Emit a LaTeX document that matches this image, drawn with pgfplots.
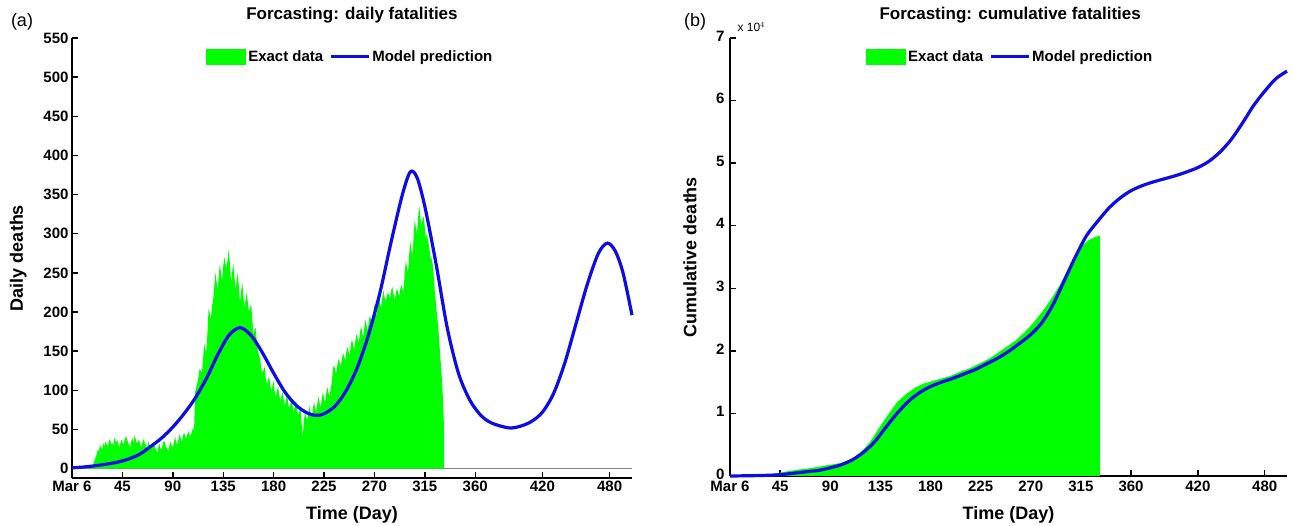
\documentclass[border=0pt]{standalone}
\usepackage{fontspec}
\setmainfont{Liberation Sans}
\usepackage{pgfplots}
\usepackage{pgfplotstable}
\pgfplotsset{compat=1.18}
\definecolor{mblue}{RGB}{12,12,235}
\definecolor{mgreen}{RGB}{0,255,0}
\pgfplotsset{
 myaxis/.style={
  scale only axis, anchor=south west,
  axis x line=bottom, axis y line=left,
  axis line style={-, line width=1.6pt},
  every tick/.style={black, line width=1.4pt},
  major tick length=6pt, tick align=inside,
  tick label style={font=\fontsize{15}{18}\selectfont\bfseries, inner ysep=1pt},
  /pgf/number format/assume math mode=true,
  label style={font=\fontsize{18}{21}\selectfont\bfseries},
  xmin=0, xmax=500,
  xtick={0,45,90,135,180,225,270,315,360,420,480},
  xticklabels={Mar 6,45,90,135,180,225,270,315,360,420,480},
  xlabel={Time (Day)},
  legend columns=2,
  legend style={draw=none, fill=none, font=\fontsize{15}{18}\selectfont\bfseries,
    /tikz/every even column/.append style={column sep=4pt}},
  clip=false,
 },
 greenleg/.style={legend image code/.code={\fill[mgreen] (0pt,-8pt) rectangle (40pt,8pt);}},
 blueleg/.style={legend image code/.code={\draw[mblue, line width=3pt] (0pt,0pt) -- (38pt,0pt);}},
}
% daily deaths, one row per day (day, deaths)
\pgfplotstableread{
day d
0 0
1 0
2 1
3 0
4 1
5 0
6 1
7 1
8 0
9 1
10 1
11 2
12 1
13 2
14 1
15 3
16 2
17 4
18 3
19 6
20 10
21 14
22 18
23 24
24 22
25 30
26 27
27 25
28 33
29 28
30 35
31 31
32 28
33 36
34 38
35 30
36 33
37 29
38 40
39 35
40 33
41 37
42 26
43 31
44 37
45 34
46 30
47 36
48 42
49 38
50 34
51 30
52 28
53 35
54 39
55 33
56 43
57 37
58 32
59 36
60 36
61 31
62 27
63 34
64 38
65 33
66 30
67 26
68 35
69 31
70 25
71 29
72 33
73 30
74 28
75 24
76 20
77 27
78 32
79 26
80 24
81 31
82 36
83 33
84 28
85 25
86 22
87 29
88 34
89 30
90 27
91 33
92 40
93 35
94 30
95 37
96 44
97 39
98 34
99 41
100 46
101 42
102 38
103 44
104 48
105 43
106 42
107 47
108 52
109 49
110 98
111 104
112 110
113 118
114 128
115 125
116 122
117 140
118 160
119 152
120 150
121 175
122 205
123 198
124 190
125 208
126 215
127 232
128 250
129 240
130 228
131 245
132 262
133 250
134 240
135 258
136 270
137 262
138 255
139 268
140 280
141 262
142 238
143 250
144 262
145 245
146 228
147 240
148 250
149 232
150 212
151 226
152 238
153 220
154 205
155 216
156 225
157 212
158 200
159 205
160 210
161 190
162 172
163 176
164 180
165 162
166 150
167 145
168 140
169 128
170 122
171 126
172 130
173 115
174 108
175 113
176 118
177 106
178 100
179 106
180 112
181 98
182 92
183 100
184 104
185 95
186 86
187 92
188 98
189 88
190 80
191 88
192 95
193 84
194 76
195 83
196 90
197 80
198 72
199 80
200 88
201 75
202 68
203 73
204 78
205 58
206 40
207 60
208 72
209 66
210 62
211 70
212 80
213 72
214 66
215 75
216 85
217 78
218 72
219 82
220 92
221 84
222 78
223 88
224 98
225 90
226 85
227 96
228 104
229 97
230 92
231 102
232 110
233 128
234 132
235 126
236 122
237 133
238 140
239 136
240 130
241 140
242 148
243 143
244 138
245 150
246 155
247 149
248 145
249 158
250 165
251 158
252 152
253 163
254 172
255 166
256 160
257 172
258 182
259 175
260 168
261 180
262 190
263 183
264 176
265 188
266 196
267 190
268 185
269 198
270 210
271 202
272 195
273 210
274 222
275 213
276 205
277 218
278 228
279 220
280 212
281 220
282 225
283 222
284 218
285 228
286 232
287 224
288 215
289 222
290 230
291 226
292 220
293 228
294 235
295 230
296 225
297 248
298 265
299 258
300 250
301 272
302 290
303 280
304 270
305 296
306 318
307 308
308 300
309 320
310 336
311 322
312 310
313 318
314 322
315 308
316 295
317 300
318 290
319 282
320 270
321 268
322 262
323 245
324 225
325 210
326 195
327 180
328 160
329 140
330 120
331 95
332 60
332 0
}\daily
\begin{document}
\begin{tikzpicture}[x=1pt,y=1pt]
\useasboundingbox (0,0) rectangle (1293,526);
\node[font=\fontsize{18}{21}\selectfont] at (22,504) {(a)};
\node[font=\fontsize{18}{21}\selectfont] at (695,504) {(b)};
% ---------------- left ----------------
\begin{axis}[myaxis,
  at={(72pt,48pt)}, width=560pt, height=440pt,
  ymin=-12, ymax=550, ytick={0,50,...,550},
  ylabel={Daily deaths},
  ylabel style={at={(axis description cs:-0.096,0.5)}, anchor=center},
  xlabel style={at={(axis description cs:0.5,-0.084)}, anchor=center},
  xticklabel style={yshift=-2pt},
  legend style={at={(0.497,0.957)}, anchor=center},
]
\addplot[gray, line width=0.8pt, forget plot] coordinates {(0,0) (500,0)};
\addplot[fill=mgreen, draw=none, greenleg] table[x=day, y=d] {\daily} \closedcycle;
\addlegendentry{Exact data}
\addplot[mblue, line width=3.2pt, smooth, blueleg] coordinates {
(0,1) (10,2) (20,3.5) (30,5.5) (40,8) (50,12) (60,18) (70,28) (80,39) (90,53)
(100,70) (110,90) (120,115) (130,145) (140,170) (150,180) (160,170) (170,148) (180,122) (190,98)
(200,81) (210,71) (218,68) (225,70) (235,80) (245,100) (255,130) (265,172) (275,225) (285,290)
(295,350) (302,379) (308,372) (315,335) (325,262) (335,180) (345,122) (355,88) (365,68) (375,58)
(390,52) (400,54) (410,60) (420,72) (430,96) (440,135) (450,185) (460,235) (470,275) (478,288)
(485,278) (492,250) (500,196)
};
\addlegendentry{Model prediction}
\node[font=\fontsize{17}{20}\selectfont\bfseries, anchor=center] at (rel axis cs:0.5,1.052) {Forcasting: daily fatalities};
\end{axis}
% ---------------- right ----------------
\begin{axis}[myaxis,
  at={(730pt,50pt)}, width=557pt, height=438pt,
  ymin=0, ymax=7, ytick={0,1,...,7},
  ylabel={Cumulative deaths},
  ylabel style={at={(axis description cs:-0.072,0.5)}, anchor=center},
  xlabel style={at={(axis description cs:0.5,-0.089)}, anchor=center},
  xticklabel style={yshift=-4pt},
  yticklabel style={yshift=2pt, xshift=-2pt},
  legend style={at={(0.503,0.957)}, anchor=center},
]
\addplot[fill=mgreen, draw=none, greenleg] coordinates {
(0,0) (20,0.005) (30,0.02) (40,0.04) (50,0.07) (60,0.1) (70,0.12) (80,0.15) (90,0.18) (100,0.21)
(110,0.27) (115,0.35) (120,0.43) (126,0.55) (132,0.72) (138,0.88) (144,1.03) (150,1.18) (158,1.31) (166,1.41)
(174,1.48) (182,1.52) (190,1.56) (198,1.60) (207,1.67) (215,1.72) (223,1.79) (231,1.86) (239,1.95) (247,2.05)
(256,2.16) (264,2.29) (272,2.44) (280,2.62) (288,2.82) (296,3.05) (304,3.33) (310,3.52) (316,3.68) (322,3.77)
(328,3.82) (332,3.84) (332,0)
} \closedcycle;
\addlegendentry{Exact data}
\addplot[mblue, line width=3.2pt, smooth, blueleg] coordinates {
(0,0) (20,0.005) (40,0.015) (50,0.03) (60,0.05) (70,0.07) (80,0.09) (90,0.13) (100,0.18) (110,0.26)
(120,0.38) (130,0.55) (140,0.78) (150,1.0) (160,1.19) (170,1.33) (180,1.43) (190,1.5) (200,1.56) (210,1.63)
(220,1.7) (230,1.79) (240,1.88) (250,1.99) (260,2.12) (270,2.26) (280,2.45) (290,2.74) (300,3.12) (310,3.5)
(320,3.84) (330,4.07) (340,4.28) (350,4.44) (360,4.56) (370,4.64) (380,4.70) (390,4.75) (400,4.80) (410,4.86)
(420,4.93) (430,5.03) (440,5.18) (450,5.38) (460,5.64) (470,5.92) (480,6.15) (490,6.35) (500,6.47)
};
\addlegendentry{Model prediction}
\node[font=\fontsize{17}{20}\selectfont\bfseries, anchor=center] at (rel axis cs:0.503,1.0525) {Forcasting: cumulative fatalities};
\end{axis}
\node[font=\fontsize{12}{14}\selectfont, anchor=west] at (734,499) {x 10$^{4}$};
\end{tikzpicture}
\end{document}
